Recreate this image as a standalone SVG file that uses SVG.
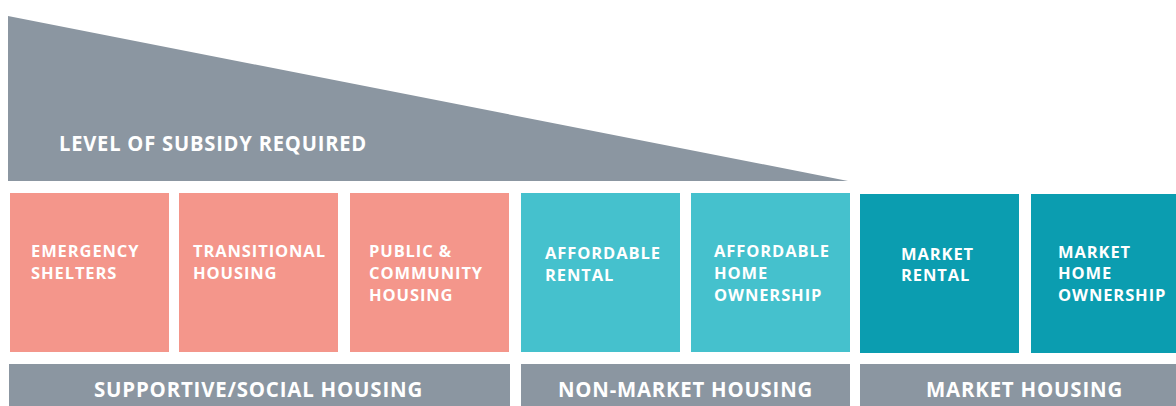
<svg xmlns="http://www.w3.org/2000/svg" width="1176" height="406" viewBox="0 0 1176 406">
<style>
.bg{fill:#ffffff}
.tri{fill:#8b96a1}
.soc{fill:#f4968b}
.nm{fill:#45c1cd}
.mk{fill:#0b9db0}
.bar{fill:#8b96a1}
.t{font-family:"Open Sans","Noto Sans","DejaVu Sans",sans-serif;font-weight:700;fill:#ffffff;font-size:16.5px;letter-spacing:0.9px}
.b{font-family:"Open Sans","Noto Sans","DejaVu Sans",sans-serif;font-weight:700;fill:#ffffff;font-size:20.5px;letter-spacing:0.8px}
</style>
<rect class="bg" x="0" y="0" width="1176" height="406"/>
<g id="subsidy">
<polygon class="tri" points="8,16 848,181 8,181"/>
<text class="b" x="59" y="151" textLength="308" lengthAdjust="spacingAndGlyphs">LEVEL OF SUBSIDY REQUIRED</text>
</g>
<g id="emergency-shelters">
<rect class="soc" x="10" y="193" width="159" height="159"/>
<text class="t" x="31" y="257">EMERGENCY</text>
<text class="t" x="31" y="279">SHELTERS</text>
</g>
<g id="transitional-housing">
<rect class="soc" x="179" y="193" width="159" height="159"/>
<text class="t" x="193" y="257">TRANSITIONAL</text>
<text class="t" x="193" y="279">HOUSING</text>
</g>
<g id="public-community-housing">
<rect class="soc" x="350" y="193" width="159" height="159"/>
<text class="t" x="369" y="257">PUBLIC &amp;</text>
<text class="t" x="369" y="279">COMMUNITY</text>
<text class="t" x="369" y="301">HOUSING</text>
</g>
<g id="affordable-rental">
<rect class="nm" x="521" y="193" width="159" height="159"/>
<text class="t" x="545" y="259">AFFORDABLE</text>
<text class="t" x="545" y="281">RENTAL</text>
</g>
<g id="affordable-home-ownership">
<rect class="nm" x="691" y="193" width="159" height="159"/>
<text class="t" x="714" y="257">AFFORDABLE</text>
<text class="t" x="714" y="279">HOME</text>
<text class="t" x="714" y="301">OWNERSHIP</text>
</g>
<g id="market-rental">
<rect class="mk" x="860" y="194" width="159" height="159"/>
<text class="t" x="901" y="260">MARKET</text>
<text class="t" x="901" y="281">RENTAL</text>
</g>
<g id="market-home-ownership">
<rect class="mk" x="1031" y="194" width="145" height="159"/>
<text class="t" x="1058" y="258">MARKET</text>
<text class="t" x="1058" y="279">HOME</text>
<text class="t" x="1058" y="301">OWNERSHIP</text>
</g>
<g id="supportive-social-housing">
<rect class="bar" x="9" y="364" width="501" height="42"/>
<text class="b" x="94" y="397" textLength="329" lengthAdjust="spacingAndGlyphs">SUPPORTIVE/SOCIAL HOUSING</text>
</g>
<g id="non-market-housing">
<rect class="bar" x="521" y="364" width="329" height="42"/>
<text class="b" x="558" y="397" textLength="255" lengthAdjust="spacingAndGlyphs">NON-MARKET HOUSING</text>
</g>
<g id="market-housing">
<rect class="bar" x="860" y="364" width="316" height="42"/>
<text class="b" x="926" y="397" textLength="197" lengthAdjust="spacingAndGlyphs">MARKET HOUSING</text>
</g>
<g id="connectors"></g>
</svg>
